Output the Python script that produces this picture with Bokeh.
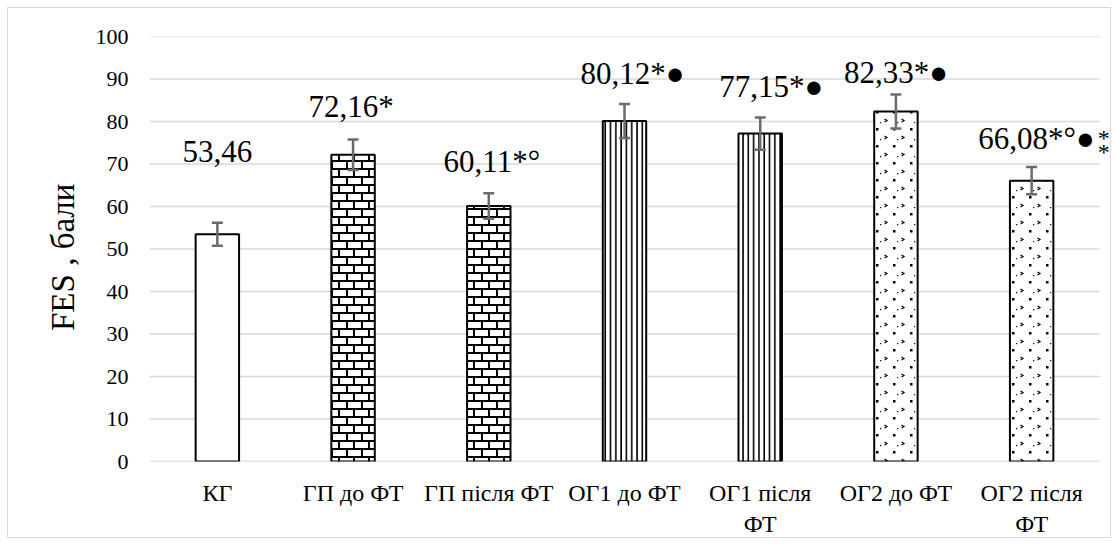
import base64

from bokeh.embed import file_html
from bokeh.models import (ColumnDataSource, FixedTicker, ImageURLTexture, Label,
                          Range1d, TeeHead, Whisker)
from bokeh.plotting import figure
from bokeh.resources import INLINE

# ---- data -------------------------------------------------------------
groups = ["КГ", "ГП до ФТ", "ГП після ФТ", "ОГ1 до ФТ", "ОГ1 після\nФТ",
          "ОГ2 до ФТ", "ОГ2 після\nФТ"]
fes_mean = [53.46, 72.16, 60.11, 80.12, 77.15, 82.33, 66.08]
fes_err = [2.7, 3.6, 3.0, 4.0, 3.8, 4.0, 3.2]
marks = ["", "*", "*°", "*●", "*●", "*●", "*°●"]
y_ticks = [0, 10, 20, 30, 40, 50, 60, 70, 80, 90, 100]

# ---- fill textures ----------------------------------------------------
def svg_uri(svg):
    return "data:image/svg+xml;base64," + base64.b64encode(svg.encode()).decode()

brick_svg = (
    '<svg xmlns="http://www.w3.org/2000/svg" width="15" height="16">'
    '<rect width="15" height="16" fill="white"/>'
    '<g stroke="black" stroke-width="2" shape-rendering="crispEdges">'
    '<line x1="0" y1="1" x2="15" y2="1"/>'
    '<line x1="0" y1="9" x2="15" y2="9"/>'
    '<line x1="1" y1="1" x2="1" y2="9"/>'
    '<line x1="8.5" y1="9" x2="8.5" y2="16"/>'
    '</g></svg>'
)
dots_svg = (
    '<svg xmlns="http://www.w3.org/2000/svg" width="17" height="17">'
    '<rect width="17" height="17" fill="white"/>'
    '<rect x="1" y="1" width="2.5" height="2.5" fill="black"/>'
    '<path d="M9.5 9 L12 10.5 L9.5 12" stroke="black" stroke-width="1.2" fill="none"/>'
    '<rect x="5" y="12" width="1.2" height="1.2" fill="black"/>'
    '</svg>'
)
textures = {
    "brick": ImageURLTexture(url=svg_uri(brick_svg)),
    "sparse_dots": ImageURLTexture(url=svg_uri(dots_svg)),
}
patterns = [" ", "brick", "brick", "|", "|", "sparse_dots", "sparse_dots"]

n = len(groups)
xpos = [i + 0.5 for i in range(n)]
src = ColumnDataSource(dict(
    x=xpos,
    top=fes_mean,
    upper=[m + e for m, e in zip(fes_mean, fes_err)],
    lower=[m - e for m, e in zip(fes_mean, fes_err)],
    hatch=patterns,
))

# ---- figure -----------------------------------------------------------
# the plotting area runs a little past the last category so that the
# trailing stars of the last label stay visible
right_room = 13 / 135.7
p = figure(
    x_range=Range1d(0, n + right_room),
    y_range=Range1d(0, 100),
    width=1104, height=531,
    output_backend="svg", toolbar_location=None,
    min_border_left=141, min_border_right=0,
    min_border_top=28, min_border_bottom=78,
)
p.margin = (7, 7, 6, 7)
p.styles = {"border": "1px solid #d9d9d9"}
p.outline_line_color = None
p.background_fill_color = "white"

# horizontal grid spanning the categories only
grid_src = ColumnDataSource(dict(
    y=[t for t in y_ticks if t > 0],
    x0=[0] * (len(y_ticks) - 1),
    x1=[n] * (len(y_ticks) - 1),
))
p.segment(x0="x0", x1="x1", y0="y", y1="y", source=grid_src,
          line_color="#d9d9d9", line_width=1.5, level="underlay")
p.segment(x0=[0], x1=[n], y0=[y_ticks[0]], y1=[y_ticks[0]],
          line_color="#c8c8c8", line_width=1.5, level="underlay")

p.vbar(x="x", top="top", bottom=0, width=0.32, source=src,
       fill_color="white", line_color="black", line_width=2,
       hatch_pattern="hatch", hatch_color="black", hatch_weight=1.6,
       hatch_scale=5.3, hatch_extra=textures)

err = Whisker(base="x", upper="upper", lower="lower", source=src, level="overlay",
              line_color="#6b6b6b", line_width=2.5,
              upper_head=TeeHead(size=11, line_color="#6b6b6b", line_width=2.5),
              lower_head=TeeHead(size=11, line_color="#6b6b6b", line_width=2.5))
p.add_layout(err)

# value labels above the bars
serif = "Liberation Serif"
lift_px = [83, 48, 45, 47, 47, 39, 42]
shift_px = [0, -2, 3, 8, 11, 0, 63]
for i, (x, m, s) in enumerate(zip(xpos, fes_mean, marks)):
    txt = f"{m:.2f}".replace(".", ",") + s
    last = i == n - 1
    p.add_layout(Label(x=x, y=m, text=txt,
                       x_offset=shift_px[i], y_offset=lift_px[i],
                       text_align="right" if last else "center",
                       text_baseline="middle",
                       text_font=serif, text_font_size="31px", text_color="black"))
    if last:
        # two stacked significance stars after the last label
        for dy in (0.5, -13):
            p.add_layout(Label(x=x, y=m, text="*", x_offset=66,
                               y_offset=lift_px[i] + dy, text_align="left",
                               text_baseline="middle", text_font=serif,
                               text_font_size="24px", text_color="black"))

# ---- axes ---------------------------------------------------------------
p.grid.visible = False
p.yaxis.ticker = y_ticks
p.yaxis.axis_line_color = None
p.yaxis.major_tick_line_color = None
p.yaxis.minor_tick_line_color = None
p.yaxis.major_tick_out = 0
p.yaxis.major_tick_in = 0
p.yaxis.major_label_standoff = 21
p.yaxis.major_label_text_font = serif
p.yaxis.major_label_text_font_size = "22px"
p.yaxis.major_label_text_color = "#000000"
p.yaxis.axis_label = "FES  ,  бали"
p.yaxis.axis_label_text_font = serif
p.yaxis.axis_label_text_font_size = "33px"
p.yaxis.axis_label_text_font_style = "normal"
p.yaxis.axis_label_text_color = "black"
p.yaxis.axis_label_standoff = 12

p.xaxis.ticker = FixedTicker(ticks=xpos)
p.xaxis.major_label_overrides = {x: g for x, g in zip(xpos, groups)}
p.xaxis.axis_line_color = None
p.xaxis.major_tick_line_color = None
p.xaxis.minor_tick_line_color = None
p.xaxis.major_tick_out = 0
p.xaxis.major_tick_in = 0
p.xaxis.major_label_standoff = 18
p.xaxis.major_label_text_font = serif
p.xaxis.major_label_text_font_size = "24px"
p.xaxis.major_label_text_color = "black"

with open("out.html", "w") as f:
    f.write(file_html(p, INLINE))
